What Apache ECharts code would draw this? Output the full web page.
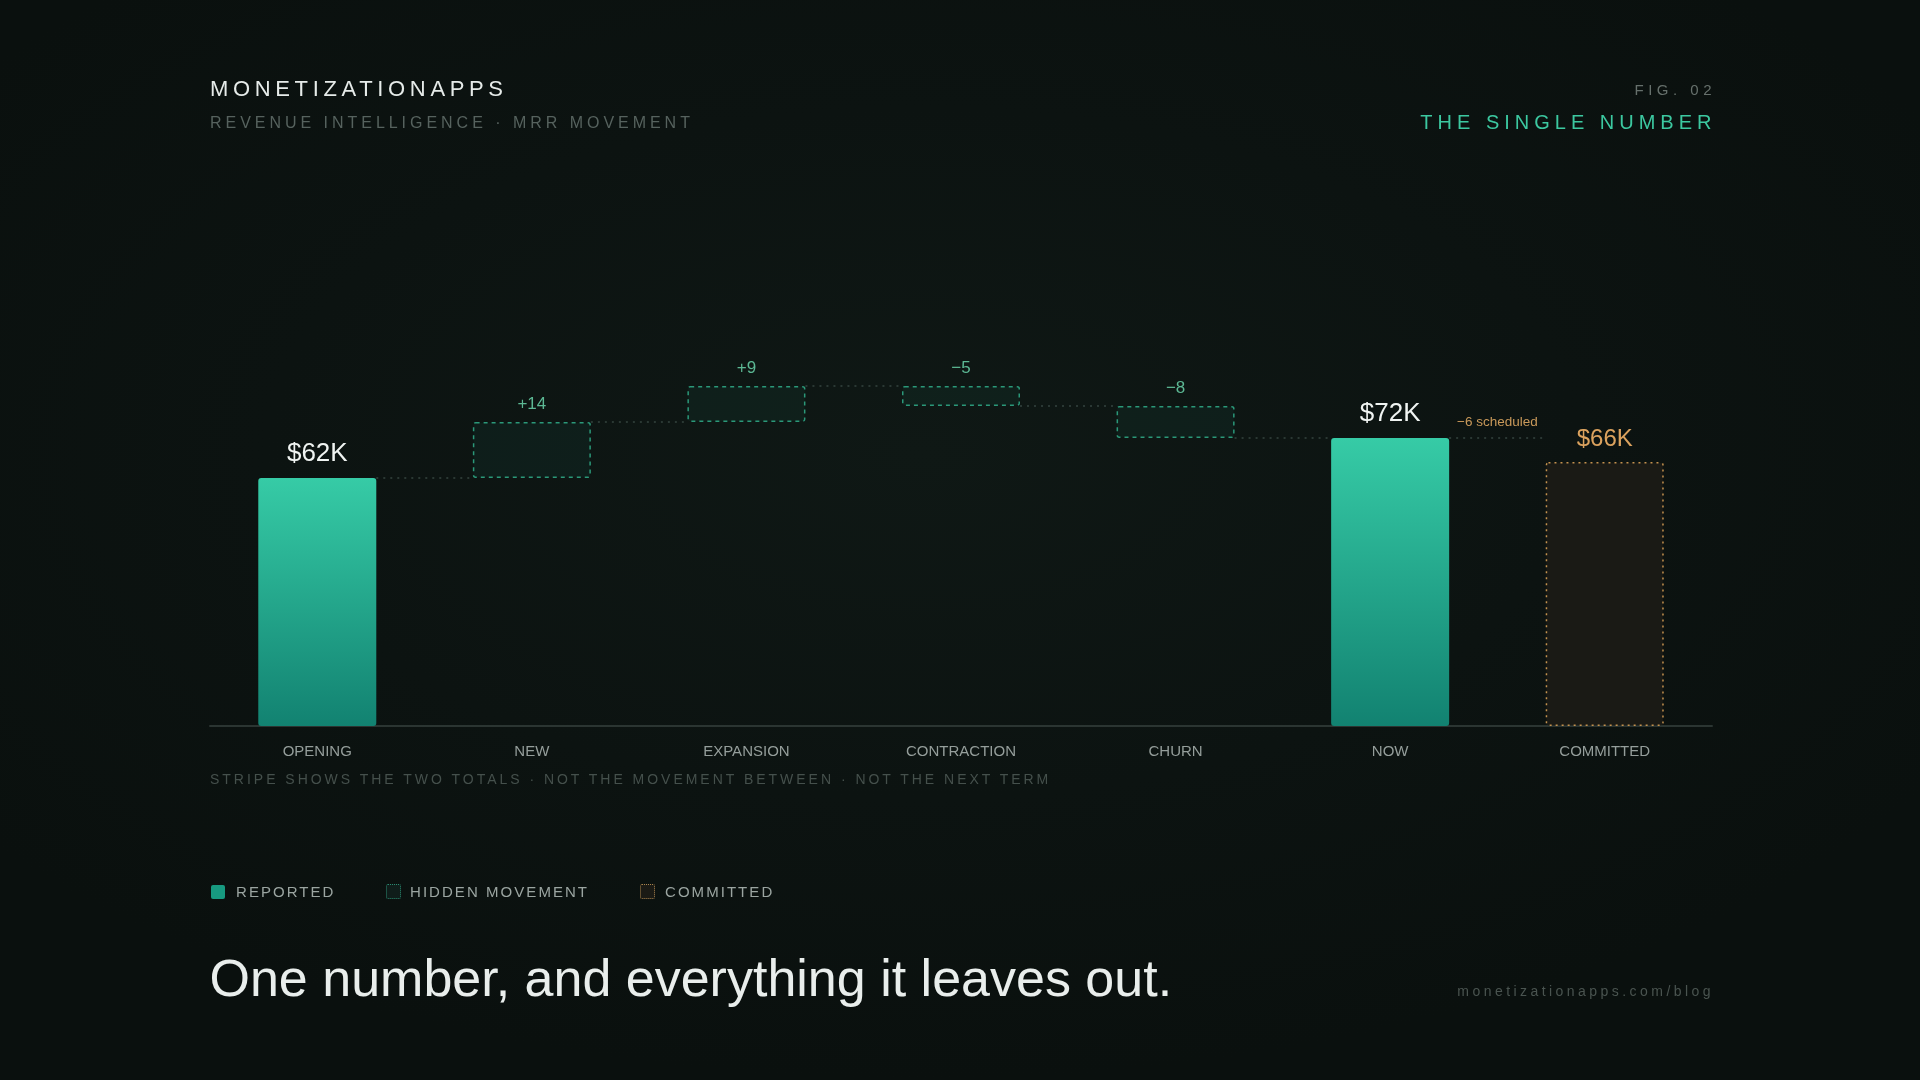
<!DOCTYPE html>
<html>
<head>
<meta charset="utf-8">
<script src="https://cdn.jsdelivr.net/npm/echarts@6/dist/echarts.min.js"></script>
<style>
  html, body { margin: 0; padding: 0; }
  body {
    width: 1920px; height: 1080px; overflow: hidden;
    background: radial-gradient(ellipse 62% 58% at 48% 42%, #0f1815 0%, #0c1311 55%, #0a100e 100%);
    font-family: "Liberation Sans", Arial, Helvetica, sans-serif;
  }
  #chart { position: absolute; left: 0; top: 0; width: 1920px; height: 1080px; }
  .t { position: absolute; white-space: nowrap; line-height: 1; }
  .legend-item { position: absolute; top: 884px; height: 15px; display: flex; align-items: center; }
  .sw { width: 14px; height: 14px; border-radius: 2px; box-sizing: border-box; margin-right: 11px; }
  .lt { font-size: 15px; letter-spacing: 2.05px; color: #9ba5a1; line-height: 1; }
</style>
</head>
<body>
<div id="chart"></div>

<div class="t" style="left:210px; top:78px; font-size:22px; letter-spacing:4.65px; color:#e6ebe9;">MONETIZATIONAPPS</div>
<div class="t" style="left:210px; top:114.5px; font-size:16px; letter-spacing:3.97px; color:#56625e;">REVENUE INTELLIGENCE · MRR MOVEMENT</div>
<div class="t" style="right:204px; top:81.5px; font-size:15px; letter-spacing:4.5px; color:#66706c;">FIG. 02</div>
<div class="t" style="right:203.5px; top:112px; font-size:20px; letter-spacing:5px; color:#3cc8a0;">THE SINGLE NUMBER</div>

<div class="t" style="left:210px; top:772px; font-size:14px; letter-spacing:2.98px; color:#45504c;">STRIPE SHOWS THE TWO TOTALS · NOT THE MOVEMENT BETWEEN · NOT THE NEXT TERM</div>

<div class="legend-item" style="left:211px;"><div class="sw" style="background:#179a80;"></div><span class="lt">REPORTED</span></div>
<div class="legend-item" style="left:386px;"><div class="sw" style="width:15px;height:15px;border:1.5px dotted #2a8a70;background:#0f1d1a;margin-right:9px;"></div><span class="lt">HIDDEN MOVEMENT</span></div>
<div class="legend-item" style="left:640px;"><div class="sw" style="width:15px;height:15px;border:1.5px dotted #a9834d;background:#1a1a15;margin-right:10px;"></div><span class="lt">COMMITTED</span></div>

<div class="t" style="left:209.5px; top:951.5px; font-size:52px; color:#e9eeec;">One number, and everything it leaves out.</div>
<div class="t" style="right:206px; top:984px; font-size:14px; letter-spacing:3.45px; color:#4a5450;">monetizationapps.com/blog</div>

<script>
// ---- data ----
const categories = ['OPENING', 'NEW', 'EXPANSION', 'CONTRACTION', 'CHURN', 'NOW', 'COMMITTED'];
const reported   = [62, null, null, null, null, 72, null];
const movement   = [null, 14, 9, -5, -8, null, null];
const committed  = [null, null, null, null, null, null, 66];
const scheduled  = -6;

// ---- derived from data ----
const base = [], moveAbs = [], levels = [];
let running = 0;
for (let i = 0; i < categories.length; i++) {
  if (reported[i] != null) {
    base.push(0); moveAbs.push('-'); running = reported[i];
  } else if (movement[i] != null) {
    const d = movement[i];
    base.push(d >= 0 ? running : running + d);
    moveAbs.push(Math.abs(d));
    running += d;
  } else {
    base.push(0); moveAbs.push('-');
  }
  levels.push(running);
}
const connectors = [];
for (let i = 0; i < categories.length - 1; i++) connectors.push([i, levels[i]]);

const fmtSigned = d => (d >= 0 ? '+' : '\u2212') + Math.abs(d);
const FONT = '"Liberation Sans", Arial, Helvetica, sans-serif';
const BAR_FRAC = 0.55;

const chart = echarts.init(document.getElementById('chart'), null, { renderer: 'canvas' });
chart.setOption({
  backgroundColor: 'transparent',
  animation: false,
  textStyle: { fontFamily: FONT },
  grid: { left: 210, right: 208, top: 326, bottom: 354 },
  xAxis: {
    type: 'category',
    data: categories,
    axisLine: { lineStyle: { color: '#2b3532', width: 2 } },
    axisTick: { show: false },
    axisLabel: { color: '#959e9b', fontSize: 15, margin: 18, fontFamily: FONT }
  },
  yAxis: { type: 'value', min: 0, max: 100, show: false, splitLine: { show: false } },
  series: [
    {
      type: 'custom',
      name: 'connectors',
      z: 1,
      silent: true,
      encode: { x: 0, y: 1 },
      data: connectors,
      renderItem: function (params, api) {
        const i = api.value(0), lvl = api.value(1);
        const p0 = api.coord([i, lvl]);
        const p1 = api.coord([i + 1, lvl]);
        const half = api.size([1, 0])[0] * BAR_FRAC / 2;
        const x0 = p0[0] + half, x1 = p1[0] - half;
        const children = [{
          type: 'line',
          shape: { x1: x0, y1: p0[1], x2: x1, y2: p0[1] },
          style: { stroke: '#35443f', lineWidth: 1.5, lineDash: [2, 5] }
        }];
        if (i === categories.length - 2) {
          children.push({
            type: 'text',
            style: {
              x: (x0 + x1) / 2, y: p0[1] - 16,
              text: '\u2212' + Math.abs(scheduled) + ' scheduled',
              fill: '#c9995a', font: '13.5px ' + FONT,
              align: 'center', verticalAlign: 'middle'
            }
          });
        }
        return { type: 'group', children: children };
      }
    },
    {
      type: 'bar', name: 'base', stack: 'w', data: base,
      barWidth: (BAR_FRAC * 100) + '%', silent: true,
      itemStyle: { color: 'transparent' }, emphasis: { disabled: true }
    },
    {
      type: 'bar', name: 'Reported', stack: 'w', z: 3,
      data: reported.map(v => v == null ? '-' : v),
      barWidth: (BAR_FRAC * 100) + '%',
      itemStyle: {
        borderRadius: 3,
        color: new echarts.graphic.LinearGradient(0, 0, 0, 1, [
          { offset: 0, color: '#36cba6' },
          { offset: 1, color: '#128271' }
        ])
      },
      label: {
        show: true, position: 'top', distance: 11,
        color: '#f0f4f2', fontSize: 26, fontFamily: FONT,
        formatter: p => '$' + p.value + 'K'
      }
    },
    {
      type: 'bar', name: 'Hidden movement', stack: 'w', z: 3,
      data: moveAbs,
      barWidth: (BAR_FRAC * 100) + '%',
      itemStyle: {
        color: 'rgba(34,120,96,0.10)',
        borderColor: '#2b9879', borderWidth: 1.5, borderType: [4, 4], borderRadius: 2
      },
      label: {
        show: true, position: 'top', distance: 9,
        color: '#5cb894', fontSize: 17, fontFamily: FONT,
        formatter: p => fmtSigned(movement[p.dataIndex])
      }
    },
    {
      type: 'bar', name: 'Committed', stack: 'w', z: 3,
      data: committed.map(v => v == null ? '-' : v),
      barWidth: (BAR_FRAC * 100) + '%',
      itemStyle: {
        color: '#1a1a15',
        borderColor: '#c4924f', borderWidth: 1.5, borderType: [2, 4], borderRadius: 2
      },
      label: {
        show: true, position: 'top', distance: 11,
        color: '#dba25e', fontSize: 24, fontFamily: FONT,
        formatter: p => '$' + p.value + 'K'
      }
    }
  ]
});
</script>
</body>
</html>
